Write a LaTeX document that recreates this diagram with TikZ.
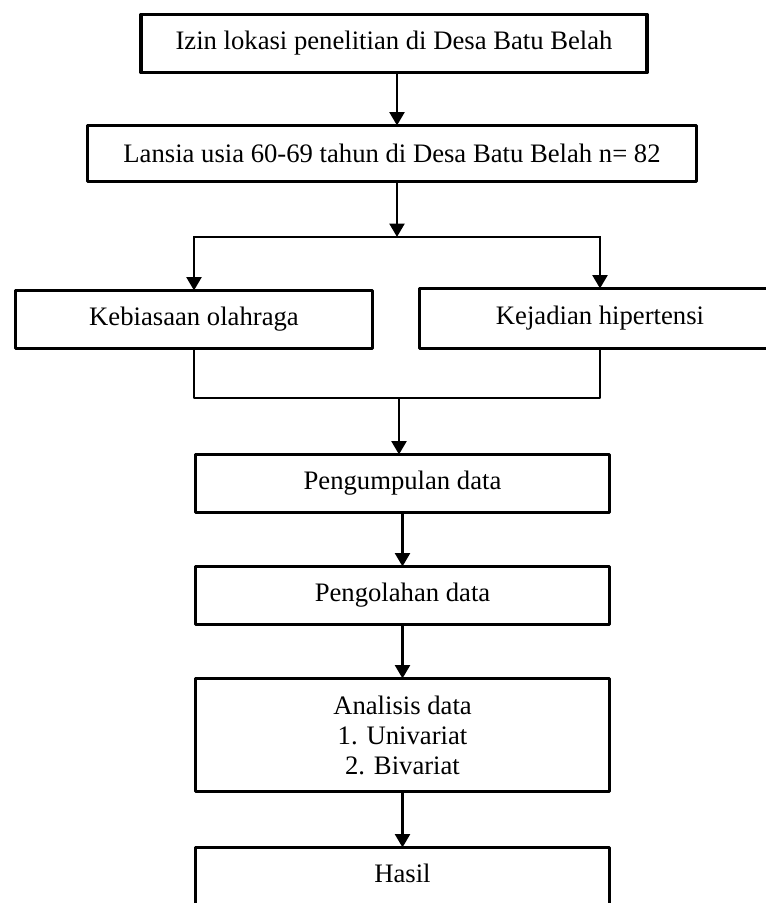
\documentclass[tikz,border=0pt]{standalone}
\usepackage{fontspec}
\setmainfont{Liberation Serif}
\usepackage{tikz}
\usetikzlibrary{arrows.meta, positioning}

\begin{document}
\begin{tikzpicture}[
  x=0.75pt, y=-0.75pt,
  box/.style={rectangle, draw=black, line width=2.4pt, line join=round, inner sep=0pt, outer sep=0pt, align=center, font=\fontsize{20}{22.5}\selectfont},
  arr/.style={-{Triangle[length=10pt, width=11pt]}, draw=black, line width=2.2pt},
  line/.style={draw=black, line width=2.2pt, line join=round},
]
\useasboundingbox (0,0) rectangle (766,903);
\clip (0,0) rectangle (766,903);

%% Top
\node[box, minimum width=379.5pt, minimum height=43.5pt] (izin)   at (394,43.5)  {Izin lokasi penelitian di Desa Batu Belah};
\node[box, minimum width=456.75pt, minimum height=42pt] (lansia) at (392,153.5) {Lansia usia 60-69 tahun di Desa Batu Belah n= 82};

%% Variables
\node[box, minimum width=267.75pt, minimum height=43.5pt] (olahraga) at (194,319.5) {Kebiasaan olahraga};
\node[box, minimum width=270.75pt, minimum height=45pt] (hiper)    at (600,318.5) {Kejadian hipertensi};

%% Steps
\node[box, minimum width=310.5pt, minimum height=43.5pt] (kumpul)   at (402.5,483.5) {Pengumpulan data};
\node[box, minimum width=310.5pt, minimum height=43.5pt] (olahdata) at (402.5,595.5) {Pengolahan data};
\node[box, minimum width=310.5pt, minimum height=84.75pt] (analisis) at (402.5,735) {Analisis data\\1. Univariat\\2. Bivariat};
\node[box, minimum width=310.5pt, minimum height=46.5pt, text depth=8pt] (hasil) at (402.5,878.5) {Hasil};

%% Branch points
\coordinate (split) at (397,237);
\coordinate (merge) at (399,398);

%% Connectors
\draw[arr] (izin.south -| split) -- (lansia.north -| split);
\draw[arr] (lansia.south -| split) -- (split);
\draw[arr] (split) -| (olahraga.north);
\draw[arr] (split) -| (hiper.north);
\draw[line] (olahraga.south) |- (merge) -| (hiper.south);
\draw[arr] (merge) -- (merge |- kumpul.north);
\draw[arr] (kumpul) -- (olahdata);
\draw[arr] (olahdata) -- (analisis);
\draw[arr] (analisis) -- (hasil);
\end{tikzpicture}
\end{document}
